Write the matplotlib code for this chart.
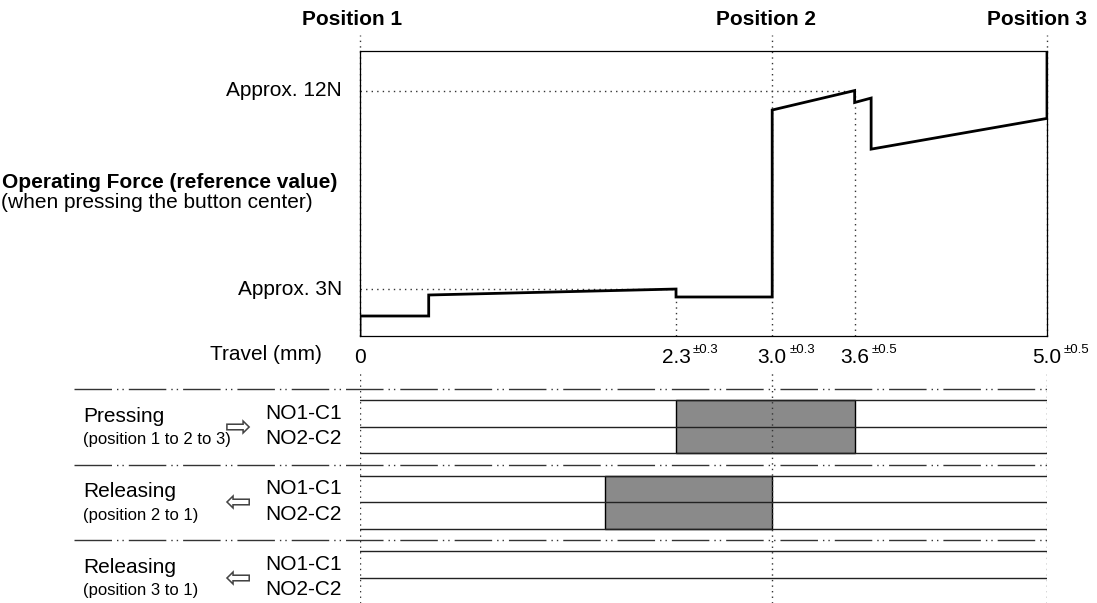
import matplotlib
matplotlib.use('Agg')
import matplotlib.pyplot as plt

plt.rcParams['font.family'] = ['Liberation Sans', 'DejaVu Sans']

# Force curve (travel in mm, force in N)
travel_mm = [0, 0, 0.5, 0.5, 2.3, 2.3, 3.0, 3.0, 3.6, 3.6, 3.72, 3.72, 5.0, 5.0]
force_n = [0.9, 1.8, 1.8, 2.75, 3.02, 2.66, 2.66, 11.12, 12.0, 11.46, 11.66, 9.35, 10.74, 13.79]

# Travel tick labels and tolerances
tick_pos = [0, 2.3, 3.0, 3.6, 5.0]
tick_labels = ['0', '2.3', '3.0', '3.6', '5.0']
tick_tol = ['', '±0.3', '±0.3', '±0.5', '±0.5']

# Positions
pos_x = [0, 3.0, 5.0]
pos_labels = ['Position 1', 'Position 2', 'Position 3']

# Switching rows
row_titles = ['Pressing', 'Releasing', 'Releasing']
row_subtitles = ['(position 1 to 2 to 3)', '(position 2 to 1)', '(position 3 to 1)']
row_arrows = ['⇨', '⇦', '⇦']
contacts = ['NO1-C1', 'NO2-C2']
on_start = [2.3, 1.78, None]
on_end = [3.6, 3.0, None]

W, H = 1097, 603
fig = plt.figure(figsize=(W / 100, H / 100), dpi=100)

# ---- main force plot ----
ax = fig.add_axes([360 / W, 1 - 336 / H, 687 / W, 285 / H])
ax.set_xlim(0, 5)
ax.set_ylim(0.895, 13.79)
ax.set_xticks([])
ax.set_yticks([])
for s in ax.spines.values():
    s.set_linewidth(0.9)

dot = (0, (1, 3))
ax.plot(travel_mm, force_n, color='black', lw=2, solid_joinstyle='miter', zorder=5)
ax.plot([0, 3.6], [12, 12], color='#333333', lw=1, ls=dot)
ax.plot([0, 2.3], [3, 3], color='#333333', lw=1, ls=dot)
ax.plot([2.3, 2.3], [0.895, 2.66], color='#333333', lw=1, ls=dot)
ax.plot([3.6, 3.6], [0.895, 12], color='#333333', lw=1, ls=dot)

xt = ax.get_xaxis_transform()
for x in pos_x:
    ax.plot([x, x], [0, 1.056], transform=xt, color='#333333', lw=1, ls=dot, clip_on=False)

for x, lab, off in zip(pos_x, pos_labels, [-8, -6, -10]):
    ax.annotate(lab, xy=(x, 1.109), xycoords=xt, xytext=(off * 0.72, 0),
                textcoords='offset points', ha='center', va='center',
                fontsize=15, fontweight='bold')

ax.text(-0.131, 12, 'Approx. 12N', ha='right', va='center', fontsize=15)
ax.text(-0.131, 3, 'Approx. 3N', ha='right', va='center', fontsize=15)

for x, lab, tol in zip(tick_pos, tick_labels, tick_tol):
    ax.text(x, -0.077, lab, transform=xt, ha='center', va='center', fontsize=15)
    if tol:
        ax.annotate(tol, xy=(x, -0.077), xycoords=xt, xytext=(12.3, 5.5),
                    textcoords='offset points', ha='left', va='center', fontsize=9.5)

fig.text(2 / W, 1 - 182 / H, 'Operating Force (reference value)', ha='left', va='center',
         fontsize=15, fontweight='bold')
fig.text(1 / W, 1 - 203 / H, '(when pressing the button center)', ha='left', va='center',
         fontsize=15)
fig.text(322 / W, 1 - 355 / H, 'Travel (mm)', ha='right', va='center', fontsize=15)

# ---- switching chart ----
ax2 = fig.add_axes([360 / W, 0, 687 / W, (603 - 373) / H])
ax2.set_xlim(0, 5)
ax2.set_ylim(2.834, -0.212)
ax2.axis('off')

for x in pos_x:
    ax2.axvline(x, color='#333333', lw=1, ls=dot, zorder=6)

dashdotdot = (0, (27, 3.6, 1, 2.9, 1, 3.6))
for i in range(len(row_titles)):
    ax2.plot([-2.08, 5.0], [i, i], color='#333333', lw=1, ls=dashdotdot, clip_on=False)
    if on_start[i] is not None:
        ax2.fill_between([on_start[i], on_end[i]], i + 0.146, i + 0.848,
                         facecolor='#8a8a8a', edgecolor='black', lw=1, zorder=2)
    for off in [0.146, 0.503, 0.848]:
        ax2.plot([0, 5], [i + off, i + off], color='#222222', lw=1, zorder=3)
    ax2.text(-2.016, i + 0.36, row_titles[i], ha='left', va='center', fontsize=15)
    ax2.text(-2.016, i + 0.67, row_subtitles[i], ha='left', va='center', fontsize=12)
    ax2.text(-0.888, i + 0.52, row_arrows[i], ha='center', va='center', fontsize=23,
             family='DejaVu Sans', color='#444444')
    ax2.text(-0.691, i + 0.32, contacts[0], ha='left', va='center', fontsize=15)
    ax2.text(-0.691, i + 0.66, contacts[1], ha='left', va='center', fontsize=15)

fig.savefig('out.png', dpi=100)
